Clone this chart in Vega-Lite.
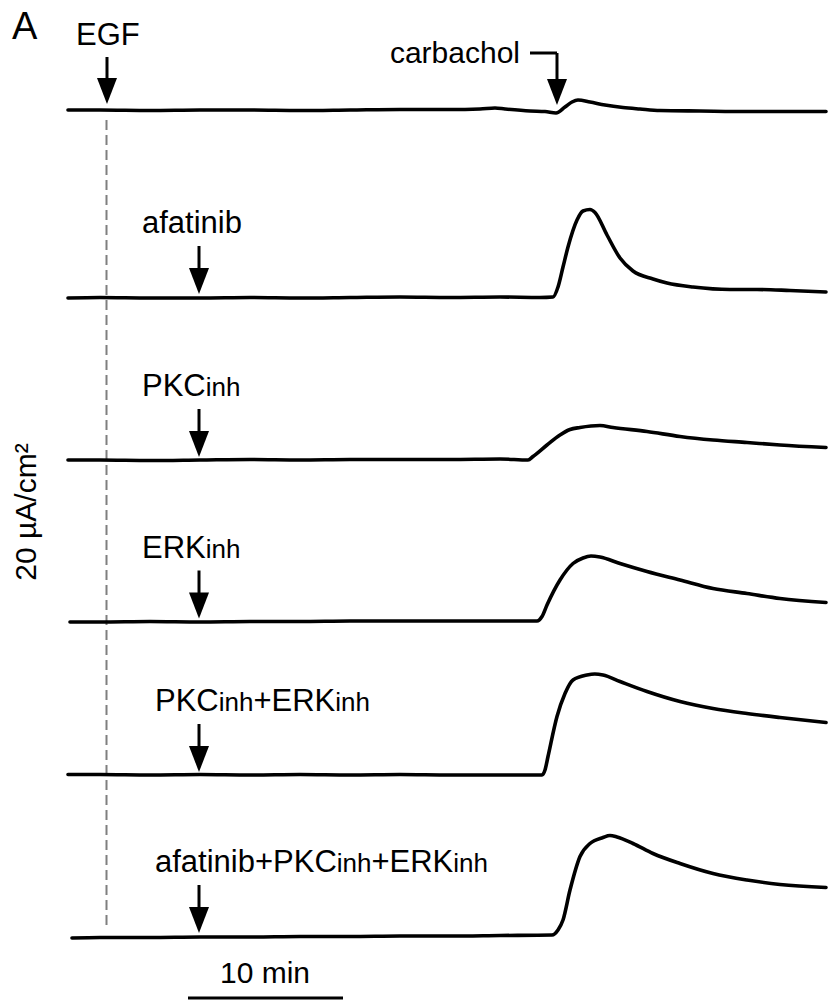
{
  "$schema": "https://vega.github.io/schema/vega-lite/v6.json",
  "width": 828,
  "height": 1004,
  "autosize": {"type": "none"},
  "padding": 0,
  "background": "white",
  "config": {"view": {"stroke": null}, "font": "Liberation Sans"},
  "datasets": {
    "traces": [
      {"trace": "control", "x": -2.387, "y": 178.8}, {"trace": "control", "x": -0.323, "y": 178.8}, {"trace": "control", "x": 2.903, "y": 178.7}, {"trace": "control", "x": 6.129, "y": 178.8}, {"trace": "control", "x": 9.355, "y": 178.8}, {"trace": "control", "x": 12.581, "y": 178.7}, {"trace": "control", "x": 15.806, "y": 178.8}, {"trace": "control", "x": 19.032, "y": 178.9}, {"trace": "control", "x": 22.258, "y": 178.9}, {"trace": "control", "x": 24.194, "y": 179.0}, {"trace": "control", "x": 25.161, "y": 179.2}, {"trace": "control", "x": 25.806, "y": 179.0}, {"trace": "control", "x": 27.419, "y": 178.6}, {"trace": "control", "x": 28.387, "y": 178.5}, {"trace": "control", "x": 29.097, "y": 178.2}, {"trace": "control", "x": 29.677, "y": 179.4}, {"trace": "control", "x": 30.129, "y": 180.4}, {"trace": "control", "x": 30.516, "y": 180.8}, {"trace": "control", "x": 31.29, "y": 180.4}, {"trace": "control", "x": 32.258, "y": 179.8}, {"trace": "control", "x": 33.419, "y": 179.3}, {"trace": "control", "x": 34.516, "y": 179.0}, {"trace": "control", "x": 35.806, "y": 178.7}, {"trace": "control", "x": 38.387, "y": 178.6}, {"trace": "control", "x": 41.613, "y": 178.5}, {"trace": "control", "x": 44.839, "y": 178.5}, {"trace": "control", "x": 46.516, "y": 178.5},

      {"trace": "afatinib", "x": -2.387, "y": 141.2}, {"trace": "afatinib", "x": -0.323, "y": 141.3}, {"trace": "afatinib", "x": 2.903, "y": 141.2}, {"trace": "afatinib", "x": 6.129, "y": 141.2}, {"trace": "afatinib", "x": 9.355, "y": 141.3}, {"trace": "afatinib", "x": 12.581, "y": 141.2}, {"trace": "afatinib", "x": 15.806, "y": 141.3}, {"trace": "afatinib", "x": 19.032, "y": 141.4}, {"trace": "afatinib", "x": 22.258, "y": 141.3}, {"trace": "afatinib", "x": 25.484, "y": 141.4}, {"trace": "afatinib", "x": 28.065, "y": 141.3}, {"trace": "afatinib", "x": 28.903, "y": 141.4}, {"trace": "afatinib", "x": 29.226, "y": 143.4}, {"trace": "afatinib", "x": 29.548, "y": 147.4}, {"trace": "afatinib", "x": 29.871, "y": 151.4}, {"trace": "afatinib", "x": 30.452, "y": 156.8}, {"trace": "afatinib", "x": 30.839, "y": 158.6}, {"trace": "afatinib", "x": 31.29, "y": 158.9}, {"trace": "afatinib", "x": 31.613, "y": 158.3}, {"trace": "afatinib", "x": 32.387, "y": 153.8}, {"trace": "afatinib", "x": 33.226, "y": 149.2}, {"trace": "afatinib", "x": 34.065, "y": 146.6}, {"trace": "afatinib", "x": 35.355, "y": 145.0}, {"trace": "afatinib", "x": 36.258, "y": 144.2}, {"trace": "afatinib", "x": 37.935, "y": 143.4}, {"trace": "afatinib", "x": 40.323, "y": 142.9}, {"trace": "afatinib", "x": 42.065, "y": 142.9}, {"trace": "afatinib", "x": 44.194, "y": 142.7}, {"trace": "afatinib", "x": 46.516, "y": 142.4},

      {"trace": "PKCinh", "x": -2.387, "y": 108.8}, {"trace": "PKCinh", "x": -0.323, "y": 108.8}, {"trace": "PKCinh", "x": 2.903, "y": 108.7}, {"trace": "PKCinh", "x": 6.129, "y": 108.8}, {"trace": "PKCinh", "x": 9.355, "y": 108.9}, {"trace": "PKCinh", "x": 12.581, "y": 108.8}, {"trace": "PKCinh", "x": 15.806, "y": 108.9}, {"trace": "PKCinh", "x": 19.032, "y": 108.9}, {"trace": "PKCinh", "x": 22.258, "y": 108.9}, {"trace": "PKCinh", "x": 25.484, "y": 109.0}, {"trace": "PKCinh", "x": 27.29, "y": 108.8}, {"trace": "PKCinh", "x": 27.613, "y": 109.5}, {"trace": "PKCinh", "x": 28.516, "y": 111.8}, {"trace": "PKCinh", "x": 29.355, "y": 113.8}, {"trace": "PKCinh", "x": 30.0, "y": 114.9}, {"trace": "PKCinh", "x": 30.645, "y": 115.3}, {"trace": "PKCinh", "x": 31.935, "y": 115.7}, {"trace": "PKCinh", "x": 32.774, "y": 115.3}, {"trace": "PKCinh", "x": 34.968, "y": 114.5}, {"trace": "PKCinh", "x": 37.097, "y": 113.5}, {"trace": "PKCinh", "x": 39.226, "y": 112.8}, {"trace": "PKCinh", "x": 41.419, "y": 112.3}, {"trace": "PKCinh", "x": 43.548, "y": 111.8}, {"trace": "PKCinh", "x": 46.516, "y": 111.3},

      {"trace": "ERKinh", "x": -2.258, "y": 76.4}, {"trace": "ERKinh", "x": -0.323, "y": 76.4}, {"trace": "ERKinh", "x": 2.903, "y": 76.5}, {"trace": "ERKinh", "x": 6.129, "y": 76.4}, {"trace": "ERKinh", "x": 9.355, "y": 76.5}, {"trace": "ERKinh", "x": 12.581, "y": 76.5}, {"trace": "ERKinh", "x": 15.806, "y": 76.6}, {"trace": "ERKinh", "x": 19.032, "y": 76.6}, {"trace": "ERKinh", "x": 22.258, "y": 76.6}, {"trace": "ERKinh", "x": 25.484, "y": 76.6}, {"trace": "ERKinh", "x": 27.871, "y": 76.6}, {"trace": "ERKinh", "x": 28.194, "y": 77.5}, {"trace": "ERKinh", "x": 28.516, "y": 79.8}, {"trace": "ERKinh", "x": 29.355, "y": 84.8}, {"trace": "ERKinh", "x": 30.194, "y": 88.1}, {"trace": "ERKinh", "x": 30.839, "y": 89.2}, {"trace": "ERKinh", "x": 31.355, "y": 89.6}, {"trace": "ERKinh", "x": 31.935, "y": 89.4}, {"trace": "ERKinh", "x": 33.226, "y": 88.1}, {"trace": "ERKinh", "x": 34.968, "y": 86.5}, {"trace": "ERKinh", "x": 37.097, "y": 84.8}, {"trace": "ERKinh", "x": 39.226, "y": 83.1}, {"trace": "ERKinh", "x": 41.419, "y": 82.1}, {"trace": "ERKinh", "x": 43.548, "y": 81.1}, {"trace": "ERKinh", "x": 46.516, "y": 80.3},

      {"trace": "PKCinh+ERKinh", "x": -2.387, "y": 45.9}, {"trace": "PKCinh+ERKinh", "x": -0.323, "y": 45.9}, {"trace": "PKCinh+ERKinh", "x": 2.903, "y": 45.8}, {"trace": "PKCinh+ERKinh", "x": 6.129, "y": 45.9}, {"trace": "PKCinh+ERKinh", "x": 9.355, "y": 45.8}, {"trace": "PKCinh+ERKinh", "x": 12.581, "y": 45.9}, {"trace": "PKCinh+ERKinh", "x": 15.806, "y": 45.8}, {"trace": "PKCinh+ERKinh", "x": 19.032, "y": 45.9}, {"trace": "PKCinh+ERKinh", "x": 22.258, "y": 45.8}, {"trace": "PKCinh+ERKinh", "x": 25.484, "y": 45.8}, {"trace": "PKCinh+ERKinh", "x": 28.194, "y": 45.8}, {"trace": "PKCinh+ERKinh", "x": 28.387, "y": 46.8}, {"trace": "PKCinh+ERKinh", "x": 28.581, "y": 49.5}, {"trace": "PKCinh+ERKinh", "x": 29.161, "y": 57.5}, {"trace": "PKCinh+ERKinh", "x": 29.677, "y": 62.1}, {"trace": "PKCinh+ERKinh", "x": 30.194, "y": 64.8}, {"trace": "PKCinh+ERKinh", "x": 31.097, "y": 65.8}, {"trace": "PKCinh+ERKinh", "x": 31.6, "y": 66.0}, {"trace": "PKCinh+ERKinh", "x": 32.129, "y": 65.8}, {"trace": "PKCinh+ERKinh", "x": 33.226, "y": 64.5}, {"trace": "PKCinh+ERKinh", "x": 34.968, "y": 62.5}, {"trace": "PKCinh+ERKinh", "x": 37.097, "y": 60.5}, {"trace": "PKCinh+ERKinh", "x": 39.226, "y": 59.1}, {"trace": "PKCinh+ERKinh", "x": 41.419, "y": 58.1}, {"trace": "PKCinh+ERKinh", "x": 43.548, "y": 57.3}, {"trace": "PKCinh+ERKinh", "x": 46.516, "y": 56.3},

      {"trace": "afatinib+PKCinh+ERKinh", "x": -2.129, "y": 13.2}, {"trace": "afatinib+PKCinh+ERKinh", "x": -0.323, "y": 13.3}, {"trace": "afatinib+PKCinh+ERKinh", "x": 2.903, "y": 13.3}, {"trace": "afatinib+PKCinh+ERKinh", "x": 6.129, "y": 13.4}, {"trace": "afatinib+PKCinh+ERKinh", "x": 9.355, "y": 13.4}, {"trace": "afatinib+PKCinh+ERKinh", "x": 12.581, "y": 13.5}, {"trace": "afatinib+PKCinh+ERKinh", "x": 15.806, "y": 13.5}, {"trace": "afatinib+PKCinh+ERKinh", "x": 19.032, "y": 13.6}, {"trace": "afatinib+PKCinh+ERKinh", "x": 22.258, "y": 13.6}, {"trace": "afatinib+PKCinh+ERKinh", "x": 25.484, "y": 13.7}, {"trace": "afatinib+PKCinh+ERKinh", "x": 28.839, "y": 13.8}, {"trace": "afatinib+PKCinh+ERKinh", "x": 29.226, "y": 14.8}, {"trace": "afatinib+PKCinh+ERKinh", "x": 29.548, "y": 16.8}, {"trace": "afatinib+PKCinh+ERKinh", "x": 30.0, "y": 22.8}, {"trace": "afatinib+PKCinh+ERKinh", "x": 30.645, "y": 29.5}, {"trace": "afatinib+PKCinh+ERKinh", "x": 31.29, "y": 32.1}, {"trace": "afatinib+PKCinh+ERKinh", "x": 32.129, "y": 33.3}, {"trace": "afatinib+PKCinh+ERKinh", "x": 32.58, "y": 33.7}, {"trace": "afatinib+PKCinh+ERKinh", "x": 33.032, "y": 33.4}, {"trace": "afatinib+PKCinh+ERKinh", "x": 34.065, "y": 32.1}, {"trace": "afatinib+PKCinh+ERKinh", "x": 35.355, "y": 30.1}, {"trace": "afatinib+PKCinh+ERKinh", "x": 37.097, "y": 28.1}, {"trace": "afatinib+PKCinh+ERKinh", "x": 39.226, "y": 26.1}, {"trace": "afatinib+PKCinh+ERKinh", "x": 41.419, "y": 24.8}, {"trace": "afatinib+PKCinh+ERKinh", "x": 43.548, "y": 23.9}, {"trace": "afatinib+PKCinh+ERKinh", "x": 46.516, "y": 23.3}
    ],
    "vline": [{"x": 0.097, "y": 176.8, "y2": 15.8}],
    "arrows": [
      {"name": "EGF", "x": 0.129, "y": 189.4, "y2": 182.6},
      {"name": "carbachol", "x": 29.161, "y": 190.2, "y2": 182.4},
      {"name": "afatinib", "x": 6.065, "y": 151.6, "y2": 144.6},
      {"name": "PKCinh", "x": 6.065, "y": 119.0, "y2": 112.0},
      {"name": "ERKinh", "x": 6.065, "y": 86.7, "y2": 79.7},
      {"name": "PKCinh+ERKinh", "x": 6.065, "y": 56.0, "y2": 49.0},
      {"name": "afatinib+PKCinh+ERKinh", "x": 6.065, "y": 23.8, "y2": 16.8}
    ],
    "hrules": [
      {"name": "carbachol leader", "x": 27.419, "x2": 29.161, "y": 190.2},
      {"name": "10 min scale bar", "x": 5.355, "x2": 15.355, "y": 1.2}
    ],
    "texts": [
      {"role": "main", "x": 2.387, "y": 154.2, "text": "afatinib"},
      {"role": "main", "x": 2.387, "y": 121.6, "text": "PKC"},
      {"role": "sub", "x": 6.497, "y": 121.6, "text": "inh"},
      {"role": "main", "x": 2.387, "y": 89.3, "text": "ERK"},
      {"role": "sub", "x": 6.497, "y": 89.3, "text": "inh"},
      {"role": "main", "x": 3.226, "y": 58.6, "text": "PKC"},
      {"role": "sub", "x": 7.335, "y": 58.6, "text": "inh"},
      {"role": "main", "x": 9.574, "y": 58.6, "text": "+ERK"},
      {"role": "sub", "x": 14.851, "y": 58.6, "text": "inh"},
      {"role": "main", "x": 3.226, "y": 26.4, "text": "afatinib+PKC"},
      {"role": "sub", "x": 14.948, "y": 26.4, "text": "inh"},
      {"role": "main", "x": 17.187, "y": 26.4, "text": "+ERK"},
      {"role": "sub", "x": 22.465, "y": 26.4, "text": "inh"},
      {"role": "main", "x": -1.871, "y": 191.8, "text": "EGF"},
      {"role": "right", "x": 26.774, "y": 188.2, "text": "carbachol"},
      {"role": "center", "x": 10.323, "y": 4.2, "text": "10 min"},
      {"role": "panel", "x": -6.0, "y": 193.0, "text": "A"},
      {"role": "ylabel", "x": -5.032, "y": 98.4, "text": "20 µA/cm²"}
    ]
  },
  "layer": [
    {
      "data": {"name": "vline"},
      "mark": {"type": "rule", "color": "#7f7f7f", "strokeWidth": 2, "strokeDash": [10, 5]},
      "encoding": {
        "x": {"field": "x", "type": "quantitative", "scale": {"domain": [-6.774, 46.645], "nice": false, "zero": false}, "axis": null},
        "y": {"field": "y", "type": "quantitative", "scale": {"domain": [0, 200.8], "nice": false, "zero": false}, "axis": null},
        "y2": {"field": "y2"}
      }
    },
    {
      "data": {"name": "traces"},
      "mark": {"type": "line", "color": "black", "strokeWidth": 3.6, "interpolate": "monotone", "strokeJoin": "round", "strokeCap": "round"},
      "encoding": {
        "x": {"field": "x", "type": "quantitative", "scale": {"domain": [-6.774, 46.645], "nice": false, "zero": false}, "axis": null},
        "y": {"field": "y", "type": "quantitative", "scale": {"domain": [0, 200.8], "nice": false, "zero": false}, "axis": null},
        "detail": {"field": "trace", "type": "nominal"}
      }
    },
    {
      "data": {"name": "arrows"},
      "mark": {"type": "rule", "color": "black", "strokeWidth": 3},
      "encoding": {
        "x": {"field": "x", "type": "quantitative", "scale": {"domain": [-6.774, 46.645], "nice": false, "zero": false}, "axis": null},
        "y": {"field": "y", "type": "quantitative", "scale": {"domain": [0, 200.8], "nice": false, "zero": false}, "axis": null},
        "y2": {"field": "y2"}
      }
    },
    {
      "data": {"name": "hrules"},
      "mark": {"type": "rule", "color": "black", "strokeWidth": 3},
      "encoding": {
        "x": {"field": "x", "type": "quantitative", "scale": {"domain": [-6.774, 46.645], "nice": false, "zero": false}, "axis": null},
        "x2": {"field": "x2"},
        "y": {"field": "y", "type": "quantitative", "scale": {"domain": [0, 200.8], "nice": false, "zero": false}, "axis": null}
      }
    },
    {
      "data": {"name": "arrows"},
      "mark": {"type": "point", "shape": "M -0.77 -1 L 0.77 -1 L 0 1 Z", "size": 676, "filled": true, "color": "black", "opacity": 1, "strokeWidth": 0},
      "encoding": {
        "x": {"field": "x", "type": "quantitative", "scale": {"domain": [-6.774, 46.645], "nice": false, "zero": false}, "axis": null},
        "y": {"field": "y2", "type": "quantitative", "scale": {"domain": [0, 200.8], "nice": false, "zero": false}, "axis": null}
      }
    },
    {
      "data": {"name": "texts"},
      "transform": [{"filter": "datum.role === 'main'"}],
      "mark": {"type": "text", "align": "left", "baseline": "alphabetic", "fontSize": 31, "font": "Liberation Sans", "color": "black"},
      "encoding": {
        "x": {"field": "x", "type": "quantitative", "scale": {"domain": [-6.774, 46.645], "nice": false, "zero": false}, "axis": null},
        "y": {"field": "y", "type": "quantitative", "scale": {"domain": [0, 200.8], "nice": false, "zero": false}, "axis": null},
        "text": {"field": "text"}
      }
    },
    {
      "data": {"name": "texts"},
      "transform": [{"filter": "datum.role === 'sub'"}],
      "mark": {"type": "text", "align": "left", "baseline": "alphabetic", "fontSize": 26, "font": "Liberation Sans", "color": "black"},
      "encoding": {
        "x": {"field": "x", "type": "quantitative", "scale": {"domain": [-6.774, 46.645], "nice": false, "zero": false}, "axis": null},
        "y": {"field": "y", "type": "quantitative", "scale": {"domain": [0, 200.8], "nice": false, "zero": false}, "axis": null},
        "text": {"field": "text"}
      }
    },
    {
      "data": {"name": "texts"},
      "transform": [{"filter": "datum.role === 'right'"}],
      "mark": {"type": "text", "align": "right", "baseline": "alphabetic", "fontSize": 30, "font": "Liberation Sans", "color": "black"},
      "encoding": {
        "x": {"field": "x", "type": "quantitative", "scale": {"domain": [-6.774, 46.645], "nice": false, "zero": false}, "axis": null},
        "y": {"field": "y", "type": "quantitative", "scale": {"domain": [0, 200.8], "nice": false, "zero": false}, "axis": null},
        "text": {"field": "text"}
      }
    },
    {
      "data": {"name": "texts"},
      "transform": [{"filter": "datum.role === 'center'"}],
      "mark": {"type": "text", "align": "center", "baseline": "alphabetic", "fontSize": 30, "font": "Liberation Sans", "color": "black"},
      "encoding": {
        "x": {"field": "x", "type": "quantitative", "scale": {"domain": [-6.774, 46.645], "nice": false, "zero": false}, "axis": null},
        "y": {"field": "y", "type": "quantitative", "scale": {"domain": [0, 200.8], "nice": false, "zero": false}, "axis": null},
        "text": {"field": "text"}
      }
    },
    {
      "data": {"name": "texts"},
      "transform": [{"filter": "datum.role === 'panel'"}],
      "mark": {"type": "text", "align": "left", "baseline": "alphabetic", "fontSize": 38, "font": "Liberation Sans", "color": "black"},
      "encoding": {
        "x": {"field": "x", "type": "quantitative", "scale": {"domain": [-6.774, 46.645], "nice": false, "zero": false}, "axis": null},
        "y": {"field": "y", "type": "quantitative", "scale": {"domain": [0, 200.8], "nice": false, "zero": false}, "axis": null},
        "text": {"field": "text"}
      }
    },
    {
      "data": {"name": "texts"},
      "transform": [{"filter": "datum.role === 'ylabel'"}],
      "mark": {"type": "text", "align": "center", "baseline": "middle", "angle": 270, "fontSize": 30, "font": "Liberation Sans", "color": "black"},
      "encoding": {
        "x": {"field": "x", "type": "quantitative", "scale": {"domain": [-6.774, 46.645], "nice": false, "zero": false}, "axis": null},
        "y": {"field": "y", "type": "quantitative", "scale": {"domain": [0, 200.8], "nice": false, "zero": false}, "axis": null},
        "text": {"field": "text"}
      }
    }
  ]
}
